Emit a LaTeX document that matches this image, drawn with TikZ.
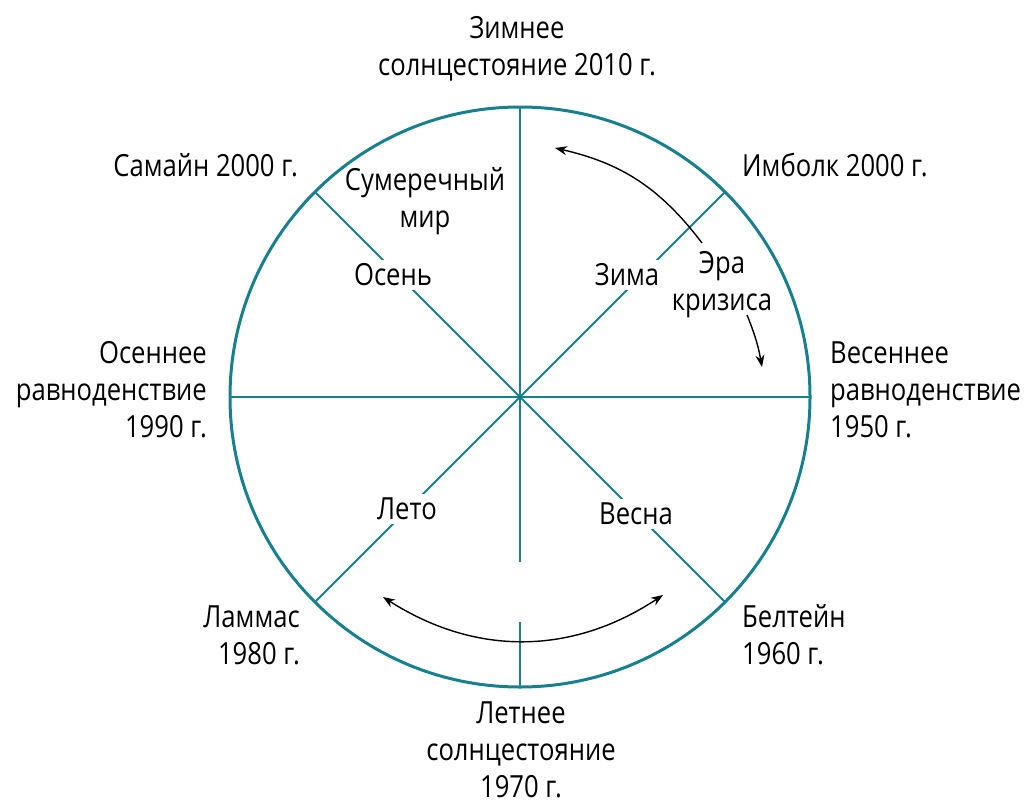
\documentclass[tikz,border=0pt]{standalone}
\usepackage{fontspec}
\setmainfont[FakeStretch=0.84]{Open Sans}
\usepackage{tikz}
\usetikzlibrary{positioning,arrows.meta}
\definecolor{wheel}{RGB}{22,128,142}

\begin{document}
\begin{tikzpicture}[x=1pt, y=-1pt,
    every node/.style = { align = center, inner sep = 2pt, font = \fontsize{30.5}{37}\selectfont },
    rim/.style = { draw = wheel, line width = 3pt },
    spoke/.style = { draw = wheel, line width = 1.8pt },
    season/.style = { fill = white, inner sep = 4pt },
    flow/.style = { line width = 1.4pt, -{Stealth[length=12pt, width=9pt]} }]
  \useasboundingbox (0,0) rectangle (1027,806);
  \coordinate (c) at (520,397);
  % points on the rim
  \foreach \a in {0,45,...,315}
    \coordinate (p\a) at ([shift={(c)}] \a:290pt);
  \coordinate (gaptop) at (520,562);
  \coordinate (gapbot) at (520,622);

  \draw[spoke] (p180) -- (p0);
  \draw[spoke] (p90) -- (c) -- (gaptop);
  \draw[spoke] (gapbot) -- (p270);
  \draw[spoke] (p135) -- (p315);
  \draw[spoke] (p45) -- (p225);
  \draw[rim] (c) circle (290pt);

  % seasons
  \node[season] (osen) at (393,275) {Осень};
  \node[season] (zima) at (627,275) {Зима};
  \node[season] (leto) at (407,509) {Лето};
  \node[season] (vesna) at (636,514) {Весна};
  \node (sumerki) at (425,201) {Сумеречный\\мир};
  \node (krizis) at (722,285) {Эра\\кризиса};

  % festivals
  \node (zimnee) at (517,49) {Зимнее\\солнцестояние 2010 г.};
  \node[anchor = east] (samain) at (300,165) {Самайн 2000 г.};
  \node[anchor = west] (imbolk) at (740,165) {Имболк 2000 г.};
  \node[anchor = east, align = right] (osennee) at (209,390) {Осеннее\\равноденствие\\1990 г.};
  \node[anchor = west, align = left] (vesennee) at (828,390) {Весеннее\\равноденствие\\1950 г.};
  \node[anchor = east, align = right] (lammas) at (302,635) {Ламмас\\1980 г.};
  \node[anchor = west, align = left] (beltein) at (740,635) {Белтейн\\1960 г.};
  \node[inner sep = 0pt] (letnee) at (521,750) {Летнее\\солнцестояние\\1970 г.};

  % arrows
  \coordinate (a1) at (702,243);
  \coordinate (a2) at (555,148);
  \coordinate (a3) at (747,315);
  \coordinate (a4) at (762,367);
  \coordinate (b1) at (383,597);
  \coordinate (b2) at (663,595);
  \draw[flow] (a1) to[bend right = 20] (a2);
  \draw[flow] (a3) to[bend left = 6] (a4);
  \draw[flow, {Stealth[length=12pt, width=9pt]}-{Stealth[length=12pt, width=9pt]}] (b1) to[bend right = 33] (b2);
\end{tikzpicture}
\end{document}
